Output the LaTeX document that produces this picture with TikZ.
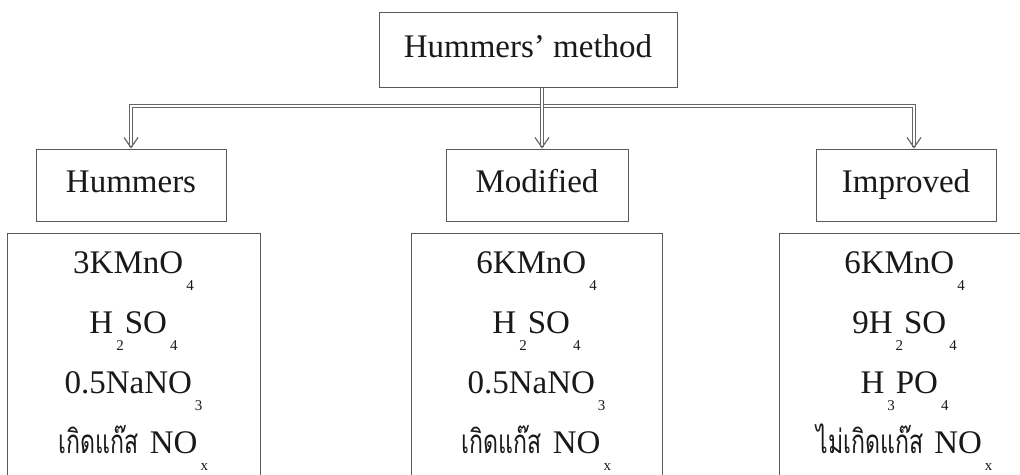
\documentclass[tikz,border=0pt]{standalone}
\usepackage{graphicx}
\usepackage{fontspec}
\setmainfont{Liberation Serif}
\newfontfamily\thaifont[Script=Thai]{Loma}
\usetikzlibrary{arrows.meta}
\newcommand\low[1]{\kern3pt\raisebox{-17pt}{\fontsize{15}{15}\selectfont #1}\kern1pt}
\newcommand\thai[1]{\scalebox{0.7}[1]{\thaifont #1}}

\begin{document}
\begin{tikzpicture}[x=1pt, y=-1pt,
  every node/.style={draw=black!65, line width=1pt, text=black!90, inner sep=0pt, font=\fontsize{33}{60}\selectfont},
  head/.style={minimum width=298pt, minimum height=75pt, text height=22pt, text depth=7pt},
  kind/.style={minimum width=182pt, minimum height=72pt, text height=22pt, text depth=7pt},
  list/.style={anchor=north, text width=251pt, align=center},
  link/.style={draw=black!60, line width=1.2pt, double=white, double distance=2pt, -{Straight Barb[length=10pt, width=14pt]}},
]
\clip (0,0) rectangle (1020,474);
\node[head] (hm) at (528,50) {Hummers’ method};
\node[kind, minimum width=190pt] (hum) at (131,185) {Hummers};
\node[kind] (mod) at (537,185) {Modified};
\node[kind, minimum width=180pt] (imp) at (906,185) {Improved};
\node[list, text width=253pt] (humlist) at (134,233)
  {\rule{0pt}{40pt}3KMnO\low4\\ H\low2SO\low4\\ 0.5NaNO\low3\\ \thai{เกิดแก๊ส} NO\low{x}\rule[-80pt]{0pt}{0pt}};
\node[list] (modlist) at (537,233)
  {\rule{0pt}{40pt}6KMnO\low4\\ H\low2SO\low4\\ 0.5NaNO\low3\\ \thai{เกิดแก๊ส} NO\low{x}\rule[-80pt]{0pt}{0pt}};
\node[list] (implist) at (905,233)
  {\rule{0pt}{40pt}6KMnO\low4\\ 9H\low2SO\low4\\ H\low3PO\low4\\ \thai{ไม่เกิดแก๊ส} NO\low{x}\rule[-80pt]{0pt}{0pt}};
\coordinate (bus) at (542,106);
\draw[link] (bus) -| (hum.north);
\draw[link] (bus) -| ([xshift=8pt]imp.north);
\draw[link] (hm.south -| bus) -- (mod.north -| bus);
\end{tikzpicture}
\end{document}
